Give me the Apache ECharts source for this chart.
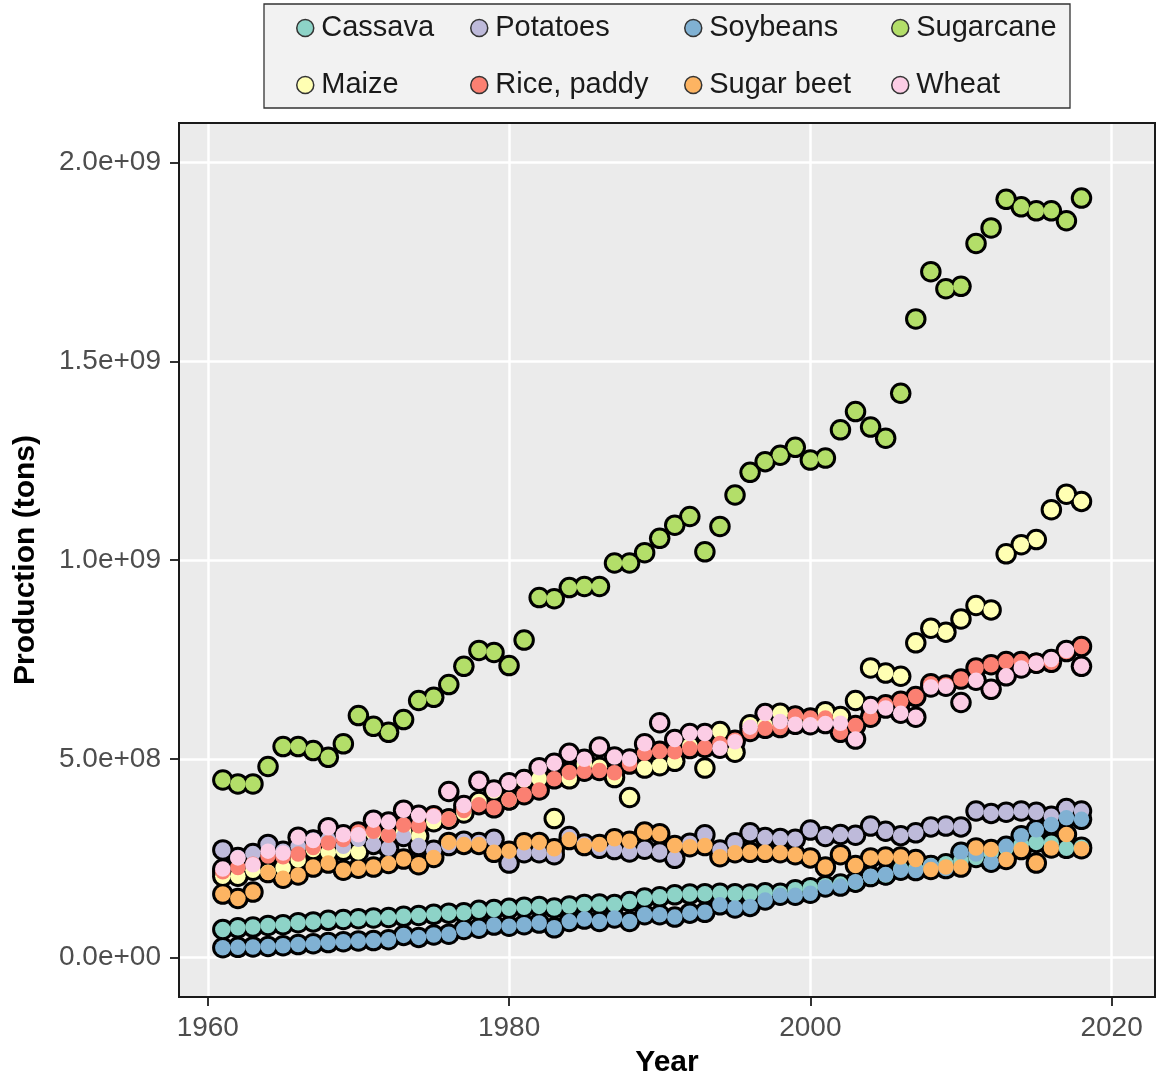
<!DOCTYPE html>
<html><head><meta charset="utf-8">
<script src="https://cdn.jsdelivr.net/npm/echarts@6/dist/echarts.min.js"></script>
<style>html,body{margin:0;padding:0;background:#fff}#chart{width:1158px;height:1084px}</style>
</head><body><div id="chart"></div>
<script>
const years = [1961,1962,1963,1964,1965,1966,1967,1968,1969,1970,
1971,1972,1973,1974,1975,1976,1977,1978,1979,1980,
1981,1982,1983,1984,1985,1986,1987,1988,1989,1990,
1991,1992,1993,1994,1995,1996,1997,1998,1999,2000,
2001,2002,2003,2004,2005,2006,2007,2008,2009,2010,
2011,2012,2013,2014,2015,2016,2017,2018];
// production in million tons
const cassava = [71,75,77,81,83,88,90,94,96,98,
100,101,104,106,109,112,113,119,121,124,
127,129,125,130,134,135,134,141,150,153,
158,160,161,162,161,160,163,162,171,176,
181,185,190,204,208,223,224,232,236,244,
252,263,276,285,290,288,275,278];
const maize = [205,205,220,215,226,246,272,265,270,266,
313,308,317,306,342,349,364,393,419,397,
447,450,350,450,486,479,453,403,477,483,
494,533,477,569,517,586,585,615,607,592,
619,607,647,729,716,708,792,829,819,852,
886,875,1016,1039,1052,1127,1166,1148];
const potatoes = [271,252,262,285,268,280,296,297,280,298,
285,275,305,282,270,282,293,290,298,238,
264,264,259,305,286,275,272,266,273,266,
250,288,309,271,289,314,302,300,298,321,
305,310,308,331,318,307,314,329,331,329,
369,363,366,369,366,356,375,369];
const rice = [216,227,235,256,254,261,277,289,297,316,
318,308,334,332,357,349,370,385,377,397,
410,422,450,466,469,471,465,487,514,519,
518,526,529,539,547,569,577,579,608,603,
603,567,584,605,636,645,657,689,686,701,
729,737,745,745,741,743,770,783];
const soybeans = [25,26,27,28,30,33,35,38,40,42,
43,45,56,51,57,59,71,74,82,79,
83,87,75,91,97,91,100,91,108,108,
102,112,114,133,125,129,145,157,157,162,
178,180,191,205,209,220,219,231,224,265,
261,240,280,307,322,335,352,348];
const sugarBeet = [160,149,165,214,200,208,228,238,220,225,
228,237,248,234,252,290,285,285,265,268,
289,290,274,297,282,285,299,293,316,312,
282,279,282,254,264,265,265,264,259,251,
228,259,232,251,253,253,247,222,228,228,
276,272,247,272,238,276,310,274];
const sugarcane = [447,437,437,481,531,531,521,504,538,609,
582,567,599,647,655,687,733,773,768,735,
799,906,903,931,934,934,993,993,1019,1055,
1088,1110,1021,1085,1164,1221,1248,1264,1284,1252,
1257,1328,1374,1335,1307,1420,1607,1726,1683,1689,
1797,1836,1908,1889,1879,1879,1854,1911];
const wheat = [223,251,234,268,263,303,295,327,309,309,
346,341,371,358,355,418,383,444,422,440,
448,478,489,514,499,530,505,500,538,591,
549,564,564,527,543,580,614,594,587,586,
589,590,550,632,628,615,605,681,683,642,
698,675,709,729,741,750,773,733];

const crops = ['Cassava','Maize','Potatoes','Rice, paddy','Soybeans','Sugar beet','Sugarcane','Wheat'];
const cropValues = [cassava, maize, potatoes, rice, soybeans, sugarBeet, sugarcane, wheat];
const colors = ['#8DD3C7','#FFFFB3','#BEBADA','#FB8072','#80B1D3','#FDB462','#B3DE69','#FCCDE5'];
const xTicks = [1960,1980,2000,2020];
const yTicks = [0,5e8,1e9,1.5e9,2e9];

const FONT = 'Liberation Sans, Arial, sans-serif';
const toPoints = arr => arr.map((v, i) => [years[i], v * 1e6]);

const series = [];
crops.forEach((c, i) => series.push({
  type: 'scatter', name: c + ' (outline)', data: toPoints(cropValues[i]),
  symbol: 'circle', symbolSize: 21.5, silent: true, z: 2, animation: false,
  itemStyle: { color: '#000', opacity: 1 }, emphasis: { disabled: true }
}));
crops.forEach((c, i) => series.push({
  type: 'scatter', name: c, data: toPoints(cropValues[i]),
  symbol: 'circle', symbolSize: 15.5, z: 3, animation: false,
  itemStyle: { color: colors[i], opacity: 1 }, emphasis: { disabled: true }
}));

const legendCols = [296, 470, 684, 891];
const legendRows = [12, 69];
const legends = crops.map((c, i) => ({
  data: [{ name: c, icon: 'circle' }],
  left: legendCols[Math.floor(i / 2)], top: legendRows[i % 2],
  orient: 'horizontal', padding: 0, itemWidth: 18, itemHeight: 17,
  selectedMode: false,
  itemStyle: { borderColor: '#333', borderWidth: 1.5 },
  textStyle: { fontSize: 29, color: '#1a1a1a', fontFamily: FONT, lineHeight: 32, padding: [0, 0, 0, 2] }
}));

const expFmt = v => v.toExponential(1).replace(/e([+-])(\d)$/, 'e$10$2');

const chart = echarts.init(document.getElementById('chart'), null, { renderer: 'canvas' });
chart.setOption({
  animation: false,
  backgroundColor: '#ffffff',
  legend: legends,
  graphic: [
    { type: 'rect', z: -1, shape: { x: 264, y: 4, width: 806, height: 104 },
      style: { fill: '#F2F2F2', stroke: '#333', lineWidth: 1.3 } },
    { type: 'rect', z: 100, silent: true, shape: { x: 179, y: 123, width: 976, height: 874 },
      style: { fill: 'none', stroke: '#1a1a1a', lineWidth: 2 } }
  ],
  grid: { left: 179, right: 3, top: 123, bottom: 87, show: true, backgroundColor: '#EBEBEB', borderWidth: 0 },
  xAxis: {
    type: 'value', min: 1958.09, max: 2022.88, minInterval: 20, maxInterval: 20,
    axisLine: { show: true, onZero: false, lineStyle: { color: '#1a1a1a', width: 2 } },
    axisTick: { show: true, length: 9, customValues: xTicks, lineStyle: { color: '#333', width: 2 } },
    axisLabel: { customValues: xTicks, fontSize: 28, color: '#4D4D4D', margin: 17, fontFamily: FONT, formatter: v => String(v) },
    splitLine: { show: true, lineStyle: { color: '#ffffff', width: 2.5 } },
    name: 'Year', nameLocation: 'middle', nameGap: 51,
    nameTextStyle: { fontSize: 30, fontWeight: 'bold', color: '#000', fontFamily: FONT }
  },
  yAxis: {
    type: 'value', min: -0.099e9, max: 2.1e9, minInterval: 5e8, maxInterval: 5e8,
    axisLine: { show: true, onZero: false, lineStyle: { color: '#1a1a1a', width: 2 } },
    axisTick: { show: true, length: 9, customValues: yTicks, lineStyle: { color: '#333', width: 2 } },
    axisLabel: { customValues: yTicks, fontSize: 28, color: '#4D4D4D', margin: 18, fontFamily: FONT, formatter: expFmt },
    splitLine: { show: true, lineStyle: { color: '#ffffff', width: 2.5 } },
    name: 'Production (tons)', nameLocation: 'middle', nameGap: 138,
    nameTextStyle: { fontSize: 30, fontWeight: 'bold', color: '#000', fontFamily: FONT }
  },
  series: series
});
</script></body></html>
